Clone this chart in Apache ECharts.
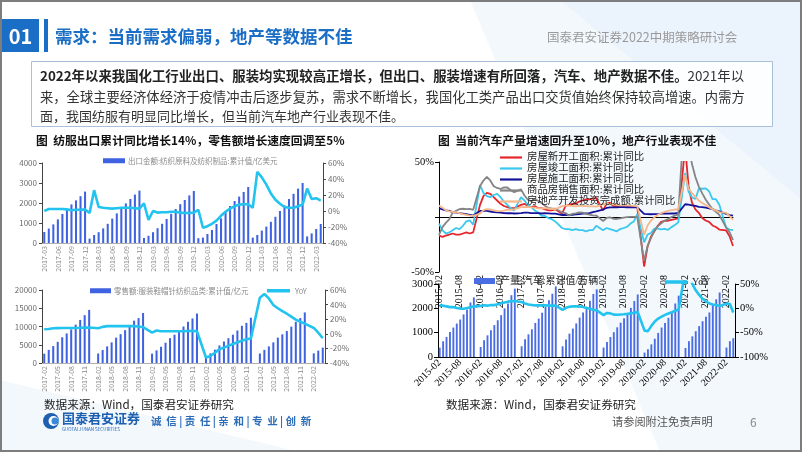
<!DOCTYPE html>
<html><head><meta charset="utf-8">
<script src="https://cdn.jsdelivr.net/npm/echarts@6/dist/echarts.min.js"></script>
<style>html,body{margin:0;padding:0;background:#fff}#c{width:802px;height:452px}</style>
</head><body><div id="c"></div>
<script>
// ---------- helpers for category labels ----------
function months(sy, sm, ey, em) {
  const a = []; let y = sy, m = sm;
  while (y < ey || (y === ey && m <= em)) { a.push(y + '-' + String(m).padStart(2, '0')); m++; if (m > 12) { m = 1; y++; } }
  return a;
}
// ---------- DATA ----------
const c1Cats = months(2017, 3, 2022, 4);   // 62
const c2Cats = months(2017, 2, 2022, 4);   // 63
const c34Cats = months(2015, 2, 2022, 4);  // 87

const c1Name = '出口金额:纺织原料及纺织制品:累计值/亿美元';
const c1Bars = [550,720,930,1180,1450,1680,1930,2130,2340,2570,
  220,400,540,730,960,1220,1480,1720,1980,2200,2420,2620,
  250,360,540,740,960,1200,1460,1700,1940,2150,2380,2600,
  240,270,450,650,950,1230,1550,1850,2100,2320,2550,2800,
  270,400,620,820,1060,1310,1600,1880,2200,2460,2720,3000,
  330,480,700,950];
const c1Yoy = [0,2.5,2.5,2.5,2.5,2,1,1.5,1.5,2,
  -2.5,26,5,4,3.5,3,3.5,4,4,4,3.5,3,
  9.5,-11,0,-2,-1.5,-1.5,-1,-1,-2,-2.5,-2.5,-2,
  1.5,-21,-19,-16,-12,-6,-1,3,6,8,8.5,8.5,
  4,49,42,33,22,14,9,5,4,4,6,8,
  28,15,16,13];

const c2Name = '零售额:服装鞋帽针纺织品类:累计值/亿元';
const c2Bars = [2550,3600,4650,5800,7050,8100,9200,10500,11800,13100,14550, null,
  2600,3550,4550,5650,6950,7900,9000,10300,11600,12300,13700, null,
  2550,3450,4450,5550,6800,7750,8800,10000,11300,12200,13550, null,
  1800,2650,3650,4800,5900,6800,7750,8900,10200,11000,12400, null,
  2600,3600,4550,5650,6950,7850,8750,9950,11300,12300,13850, null,
  2650,3400,4200];
const c2Yoy = [6.3,6.5,7.5,7.8,8,8,8,8,8.2,8.5,8.6, null,
  7.5,9.5,10.5,10.5,10.5,10.5,10.5,10.5,10.5,10,9, null,
  1.7,4.5,3.5,3.5,3.5,3.5,3.5,3.5,3.8,4,3.5, null,
  -32.5,-30.5,-26,-21,-19,-16.5,-14,-11.5,-9.5,-7.5,-6.5, null,
  49.5,54.5,48.5,39.5,35,31,27.5,23.5,19.5,16.5,14, null,
  8,1.5,-6];

const c3Names = ['房屋新开工面积:累计同比','房屋竣工面积:累计同比','房屋施工面积:累计同比','商品房销售面积:累计同比','房地产开发投资完成额:累计同比'];
const c3Start = [-17,-18,-17,-16,-15,-16,-16,-15,-14,-15,-14, null,
  11,19,22,21,18,15,12,10,9,8,8, null,
  11,12,10,9,10,8,8,7,6,6,7, null,
  3,10,11,12,12,14,15,16,16,17,17, null,
  6,12,13,10,10,9,9,9,10,9,9, null,
  -45,-27,-18,-13,-8,-4.5,-3.6,-3.4,-2.6,-2,-1.2, null,
  64,28,13,7,3.8,-0.9,-3.2,-4.5,-7.7,-9.1,-11.4, null,
  -12.2,-17.5,-26.3];
const c3Complete = [-6,-12,-15,-14,-12,-10,-11,-8,-4,-3,-7, null,
  29,22,19,18,20,21,18,14,11,8,6, null,
  18,15,11,9,6,4,1,1,-1,-2,-4, null,
  -10,-11,-11,-12,-11,-12,-12,-13,-12,-12,-8, null,
  -12,-10,-11,-12,-13,-11,-10,-9,-6,-4,2.6, null,
  -23,-16,-14.5,-10.6,-10.5,-11.2,-10.8,-11.6,-9.2,-7.3,-4.9, null,
  40,23,18,16.4,25.7,25.7,26,23.4,16.3,16.2,11.2, null,
  -9.8,-11.5,-11.9];
const c3Build = [8,7,6,5.5,4.5,4,3.5,3,2.5,2,1.3, null,
  5.5,5.5,5.5,5,4.5,4.3,4,3.5,3.4,3.5,3.2, null,
  3.6,3.9,3.9,3.6,3.5,3.5,3.2,3.4,3.3,3.1,3, null,
  1.8,1.8,2,2,2.5,2.7,3,3.3,3.5,4.5,5.2, null,
  6.8,8.2,8.8,8.8,8.8,9,9,8.7,9,8.7,8.7, null,
  2.9,2.6,2.5,2.6,2.6,3.1,3.3,3.1,3.2,3.2,3.7, null,
  11.6,11.2,10.5,10.1,9.2,9,8.5,7.9,7.1,6.1,5.2, null,
  2.9,1.8,1.2];
const c3Sales = [-16.3,-9.2,-5.4,-2.2,3.9,5.7,7.2,7.5,7.2,7.4,6.5, null,
  28.2,33.1,36.5,33.2,27.9,26.4,25.5,26.9,26.8,24.3,22.5, null,
  25.1,19.5,15.7,14.3,16.1,14.7,12.7,10.3,8.2,7.9,7.7, null,
  4.1,3.6,1.3,2.9,3.3,4.2,4,2.9,2.2,1.4,1.3, null,
  -3.6,-0.9,-0.3,-1.6,-1.8,-1.3,-0.6,-0.1,0.1,0.2,-0.1, null,
  -39.9,-26.3,-19.3,-12.3,-8.4,-5.8,-3.3,-1.8,0,1.3,2.6, null,
  104.9,63.8,48.1,36.3,27.7,21.5,15.9,11.3,7.3,4.8,1.9, null,
  -9.6,-13.8,-20.9];
const c3Invest = [10.4,8.5,6,5.1,4.6,4.3,3.5,2.6,2,1.3,1, null,
  3,6.2,7.2,7,6.1,5.3,5.4,5.8,6.6,6.5,6.9, null,
  8.9,9.1,9.3,8.8,8.5,7.9,7.9,8.1,7.8,7.5,7, null,
  9.9,10.4,10.3,10.2,9.7,10.2,10.1,9.9,9.7,9.7,9.5, null,
  11.6,11.8,11.9,11.2,10.9,10.6,10.5,10.5,10.3,10.2,9.9, null,
  -16.3,-7.7,-3.3,-0.3,1.9,3.4,4.6,5.6,6.3,6.8,7, null,
  38.3,25.6,21.6,18.3,15,12.7,10.9,8.8,7.2,6,4.4, null,
  3.7,0.7,-2.7];

const c4Name = '产量:汽车:累计值/万辆';
const c4Bars = [385,646,825,1030,1210,1375,1540,1750,1950,2240,2450, null,
  410,690,890,1100,1310,1510,1720,2000,2200,2540,2810, null,
  440,730,930,1140,1400,1580,1820,2060,2330,2600,2900, null,
  440,720,960,1170,1380,1620,1830,2060,2310,2590,2780, null,
  390,620,820,1020,1220,1410,1590,1780,2020,2300,2570, null,
  180,320,520,750,990,1210,1400,1610,1860,2200,2520, null,
  370,650,850,1060,1270,1470,1650,1830,2130,2370,2650, null,
  390,650,770];
const c4Yoy = [6.5,5.5,4,2.5,2.6,0.6,-0.5,-0.8,0.6,2.4,4, null,
  5,6.3,5.5,6.7,6.6,8.5,10.5,11.8,13.7,14.5,15, null,
  13,10,8,7,6,6,6,6,5.5,5.5,5.5, null,
  -3,1.1,3.3,4.1,4.2,3.7,2.8,0.9,-1.1,-2.9,-4.2, null,
  -13.9,-9.5,-10.4,-12.9,-13.3,-12.6,-12.1,-11.4,-10.3,-9.2,-7.5, null,
  -45.8,-46.9,-36,-27,-21,-17,-13.5,-10.5,-8,-5,-2.5, null,
  80,68,50.3,37,27.6,19.5,14,10,8,6.7,4.6, null,
  10,8.7,-8.5];

const paraBold = '2022年以来我国化工行业出口、服装均实现较高正增长，但出口、服装增速有所回落，汽车、地产数据不佳。';
const paraLines = ['2021年以', '来，全球主要经济体经济于疫情冲击后逐步复苏，需求不断增长，我国化工类产品出口交货值始终保持较高增速。内需方', '面，我国纺服有明显同比增长，但当前汽车地产行业表现不佳。'];

// ---------- STYLE ----------
const SANS = '"Noto Sans CJK SC","Noto Sans",sans-serif';
const SERIF = '"Liberation Serif","DejaVu Serif","Noto Sans CJK SC",serif';
const BLUE = '#1b6ec6';
const BAR = '#3e62e0';
const CYAN = '#22c4ef';
const C3COL = ['#e6262b', '#39c8ee', '#14149a', '#858585', '#f5b88a'];

const chart = echarts.init(document.getElementById('c'), null, {renderer: 'canvas'});

const plain = v => String(v);
const pct = v => v + '%';

function smallX(gi, cats) {
  return {gridIndex: gi, type: 'category', data: cats,
    axisLine: {lineStyle: {color: '#b0b0b0'}}, axisTick: {show: false},
    axisLabel: {rotate: 90, interval: 2, fontSize: 7, color: '#8a8a8a', margin: 3, fontFamily: SANS}};
}
function smallY(gi, min, max, iv, isPct, right) {
  return {gridIndex: gi, type: 'value', min: min, max: max, interval: iv, position: right ? 'right' : 'left',
    axisLine: {show: true, lineStyle: {color: '#444'}}, axisTick: {show: true, length: 3, lineStyle: {color: '#444'}},
    splitLine: {show: false},
    axisLabel: {fontSize: 8, color: '#6b6b6b', margin: 5, fontFamily: SANS, formatter: isPct ? pct : plain}};
}
function serifY(gi, min, max, iv, fmt, right) {
  return {gridIndex: gi, type: 'value', min: min, max: max, interval: iv, position: right ? 'right' : 'left',
    axisLine: {show: true, lineStyle: {color: '#000'}}, axisTick: {show: true, length: 4, lineStyle: {color: '#000'}},
    splitLine: {show: false},
    axisLabel: {fontSize: 10.5, color: '#000', margin: 5, fontFamily: SERIF, formatter: fmt}};
}

const txt = (text, x, y, opt) => ({type: 'text', silent: true, style: Object.assign({text: text, x: x, y: y, verticalAlign: 'middle', fontFamily: SANS, fontSize: 12, fill: '#333'}, opt || {})});

const option = {
  animation: false,
  backgroundColor: '#fff',
  graphic: [
    {type: 'polygon', silent: true, z: -10, shape: {points: [[470,0],[802,0],[802,452],[660,452]]}, style: {fill: 'rgba(228,239,250,0.45)'}},
    {type: 'polygon', silent: true, z: -10, shape: {points: [[560,0],[802,0],[802,200]]}, style: {fill: 'rgba(220,234,248,0.35)'}},
    {type: 'polygon', silent: true, z: -10, shape: {points: [[0,380],[300,452],[0,452]]}, style: {fill: 'rgba(232,241,250,0.5)'}},
    {type: 'rect', silent: true, z: 100, shape: {x: 1, y: 1, width: 800, height: 450}, style: {fill: 'none', stroke: '#7d7d7d', lineWidth: 2}},
    {type: 'rect', silent: true, shape: {x: 2, y: 19, width: 37, height: 33}, style: {fill: BLUE}},
    txt('01', 20.5, 36, {align: 'center', fill: '#fff', fontSize: 20, fontWeight: 'bold'}),
    {type: 'rect', silent: true, shape: {x: 44, y: 19, width: 4, height: 33}, style: {fill: BLUE}},
    txt('需求：当前需求偏弱，地产等数据不佳', 55, 36, {fill: BLUE, fontSize: 17.5, fontWeight: 'bold'}),
    txt('国泰君安证券2022中期策略研讨会', 547, 37, {fill: '#9a9a9a', fontSize: 12.5}),
    {type: 'rect', silent: true, shape: {x: 31.5, y: 61.5, width: 741, height: 65}, style: {fill: 'rgba(255,255,255,0.9)', stroke: '#a8c0da', lineWidth: 1}},
    {type: 'text', silent: true, style: {x: 40, y: 76, verticalAlign: 'middle', fontFamily: SANS, fontSize: 13.4, fill: '#333',
      text: '{b|' + paraBold + '}{n|' + paraLines[0] + '}',
      rich: {b: {fontWeight: 'bold', fontSize: 13.4, fill: '#222', fontFamily: SANS}, n: {fontSize: 13.4, fill: '#333', fontFamily: SANS}}}},
    {type: 'text', silent: true, style: {x: 40, y: 97, verticalAlign: 'middle', text: paraLines[1], font: '13.3px "Noto Sans CJK SC"', fill: '#333'}},
    {type: 'text', silent: true, style: {x: 40, y: 116, verticalAlign: 'middle', text: paraLines[2], font: '13px "Noto Sans CJK SC"', fill: '#333'}},
    txt('图  纺服出口累计同比增长14%，零售额增长速度回调至5%', 36, 141, {fontSize: 11.8, fontWeight: 'bold', fill: '#111'}),
    txt('图  当前汽车产量增速回升至10%，地产行业表现不佳', 438, 141, {fontSize: 11.8, fontWeight: 'bold', fill: '#111'}),
    txt('数据来源：Wind，国泰君安证券研究', 44, 405, {fontSize: 11.6, fill: '#222'}),
    txt('数据来源：Wind，国泰君安证券研究', 446, 405, {fontSize: 11.6, fill: '#222'}),
    {type: 'circle', silent: true, shape: {cx: 51, cy: 421, r: 8}, style: {fill: '#1d5fb0'}},
    {type: 'circle', silent: true, shape: {cx: 53.5, cy: 421, r: 5}, style: {fill: '#fff'}},
    {type: 'circle', silent: true, shape: {cx: 55, cy: 421, r: 3.5}, style: {fill: '#3a8ad8'}},
    txt('国泰君安证券', 62, 418, {fontSize: 13, fontWeight: 'bold', fill: '#1d5fb0'}),
    txt('GUOTAI JUNAN SECURITIES', 62, 429, {fontSize: 4.5, fill: '#1d5fb0'}),
    txt('诚  信 | 责  任 | 亲  和 | 专  业 | 创  新', 151, 421, {fontSize: 10.5, fontWeight: 'bold', fill: '#2c6cb8'}),
    txt('请参阅附注免责声明', 612, 422, {fontSize: 11.2, fill: '#555'}),
    txt('6', 750, 422, {fontSize: 12, fill: '#888'})
  ],
  grid: [
    {left: 42, top: 163, width: 281, height: 80},
    {left: 42, top: 290, width: 283, height: 73},
    {left: 439, top: 162, width: 294, height: 110},
    {left: 438, top: 284, width: 297, height: 73}
  ],
  legend: [
    {data: [c1Name], left: 103, top: 157, padding: 0, icon: 'rect', itemWidth: 22, itemHeight: 5, itemGap: 4,
      textStyle: {fontSize: 7.5, color: '#8a8a8a', fontFamily: SANS, padding: [0, 0, 0, -2]}},
    {data: [c2Name], left: 90, top: 287, padding: 0, icon: 'rect', itemWidth: 21, itemHeight: 5,
      textStyle: {fontSize: 7.5, color: '#8a8a8a', fontFamily: SANS, padding: [0, 0, 0, -2]}},
    {data: [{name: 'YoY', icon: 'rect'}], left: 267, top: 287, padding: 0, itemWidth: 23, itemHeight: 3.5,
      textStyle: {fontSize: 7.5, color: '#8a8a8a', fontFamily: SANS}},
    {data: c3Names.map(n => ({name: n, icon: 'rect'})), orient: 'vertical', left: 500, top: 152, padding: 0, itemGap: 0, itemWidth: 22, itemHeight: 2.2,
      textStyle: {fontSize: 10.4, lineHeight: 11, color: '#222', fontFamily: SERIF}},
    {data: [c4Name], left: 474, top: 276, padding: 0, icon: 'rect', itemWidth: 21, itemHeight: 6,
      textStyle: {fontSize: 10, color: '#222', fontFamily: SERIF}},
    {data: [{name: 'YoY ', icon: 'rect'}], left: 665, top: 277, padding: 0, itemWidth: 22, itemHeight: 3.5,
      textStyle: {fontSize: 10, color: '#222', fontFamily: SERIF}}
  ],
  xAxis: [
    smallX(0, c1Cats),
    smallX(1, c2Cats),
    {gridIndex: 2, type: 'category', data: c34Cats, boundaryGap: false,
      axisLine: {onZero: true, lineStyle: {color: '#000'}}, axisTick: {show: false},
      axisLabel: {rotate: 90, interval: 5, fontSize: 10, color: '#000', margin: 3, fontFamily: SERIF}},
    {gridIndex: 3, type: 'category', data: c34Cats,
      axisLine: {lineStyle: {color: '#000'}}, axisTick: {show: false},
      axisLabel: {rotate: 45, interval: 5, fontSize: 10, color: '#000', margin: 4, fontFamily: SERIF}}
  ],
  yAxis: [
    smallY(0, 0, 4000, 1000, false, false),
    smallY(0, -40, 60, 20, true, true),
    smallY(1, 0, 20000, 5000, false, false),
    smallY(1, -40, 60, 20, true, true),
    serifY(2, -50, 50, 50, v => v === 0 ? '' : v + '%', false),
    serifY(3, 0, 3000, 1000, plain, false),
    serifY(3, -100, 50, 50, pct, true)
  ],
  series: [
    {name: c1Name, type: 'bar', xAxisIndex: 0, yAxisIndex: 0, data: c1Bars, barWidth: '45%', itemStyle: {color: BAR}},
    {name: 'c1yoy', type: 'line', xAxisIndex: 0, yAxisIndex: 1, data: c1Yoy, symbol: 'none', lineStyle: {color: CYAN, width: 2.6}, itemStyle: {color: CYAN}},
    {name: c2Name, type: 'bar', xAxisIndex: 1, yAxisIndex: 2, data: c2Bars, barWidth: '45%', itemStyle: {color: BAR}},
    {name: 'YoY', type: 'line', xAxisIndex: 1, yAxisIndex: 3, data: c2Yoy, connectNulls: true, symbol: 'none', lineStyle: {color: CYAN, width: 2.6}, itemStyle: {color: CYAN}},
    {name: c3Names[0], type: 'line', xAxisIndex: 2, yAxisIndex: 4, data: c3Start, connectNulls: true, symbol: 'none', lineStyle: {color: C3COL[0], width: 1.8}, itemStyle: {color: C3COL[0]}},
    {name: c3Names[1], type: 'line', xAxisIndex: 2, yAxisIndex: 4, data: c3Complete, connectNulls: true, symbol: 'none', lineStyle: {color: C3COL[1], width: 1.8}, itemStyle: {color: C3COL[1]}},
    {name: c3Names[2], type: 'line', xAxisIndex: 2, yAxisIndex: 4, data: c3Build, connectNulls: true, symbol: 'none', lineStyle: {color: C3COL[2], width: 1.8}, itemStyle: {color: C3COL[2]}},
    {name: c3Names[3], type: 'line', xAxisIndex: 2, yAxisIndex: 4, data: c3Sales, connectNulls: true, symbol: 'none', lineStyle: {color: C3COL[3], width: 1.8}, itemStyle: {color: C3COL[3]}},
    {name: c3Names[4], type: 'line', xAxisIndex: 2, yAxisIndex: 4, data: c3Invest, connectNulls: true, symbol: 'none', lineStyle: {color: C3COL[4], width: 1.8}, itemStyle: {color: C3COL[4]}},
    {name: c4Name, type: 'bar', xAxisIndex: 3, yAxisIndex: 5, data: c4Bars, barWidth: '55%', itemStyle: {color: '#4a6de3'}},
    {name: 'YoY ', type: 'line', xAxisIndex: 3, yAxisIndex: 6, data: c4Yoy, connectNulls: true, symbol: 'none', lineStyle: {color: CYAN, width: 2.6}, itemStyle: {color: CYAN}}
  ]
};
chart.setOption(option);
</script></body></html>
